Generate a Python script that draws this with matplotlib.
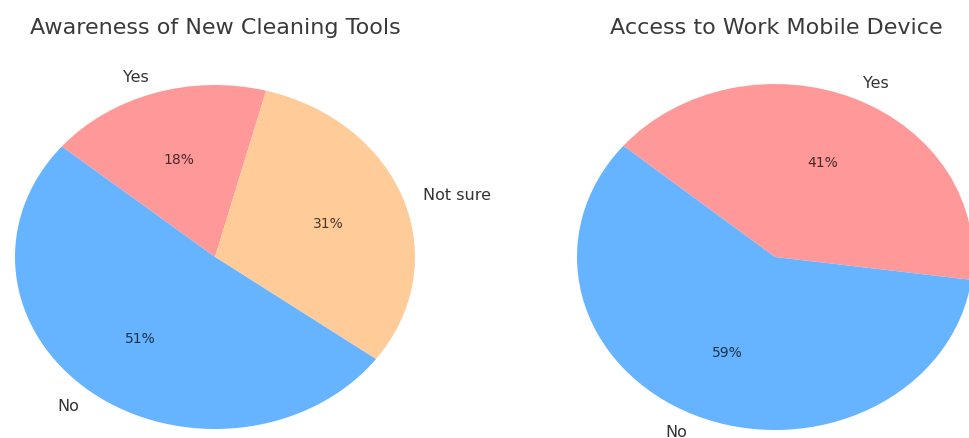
import matplotlib.pyplot as plt

# survey answers (percent)
aware_labels = ["Yes", "Not sure", "No"]
aware_values = [18, 31, 51]
aware_colors = ["#ff9999", "#ffcc99", "#66b3ff"]

mobile_labels = ["Yes", "No"]
mobile_values = [41, 59]
mobile_colors = ["#ff9999", "#66b3ff"]

W, H = 970, 439
fig = plt.figure(figsize=(W / 100, H / 100), dpi=100)


def draw_pie(rect, values, labels, colors, title, title_x):
    ax = fig.add_axes(rect)
    wedges, texts, autotexts = ax.pie(
        values, labels=labels, colors=colors, autopct="%1.0f%%",
        startangle=140, counterclock=False,
        textprops={"fontsize": 11.5, "color": "#333333"},
    )
    for t in autotexts:
        t.set_fontsize(10)
        t.set_color("black")
        t.set_alpha(0.72)
    # the original image is stretched sideways
    ax.set_aspect("auto")
    ax.set_xlim(-1, 1)
    ax.set_ylim(-1, 1)
    fig.text(title_x / W, 1 - 28 / H, title, ha="center", va="center",
             fontsize=16, color="#3a3a3a")
    return ax


draw_pie([15 / W, 9 / H, 400 / W, 344 / H], aware_values, aware_labels,
         aware_colors, "Awareness of New Cleaning Tools", 215)
draw_pie([577 / W, 8 / H, 396 / W, 346 / H], mobile_values, mobile_labels,
         mobile_colors, "Access to Work Mobile Device", 776)

plt.savefig("out.png", dpi=100)
